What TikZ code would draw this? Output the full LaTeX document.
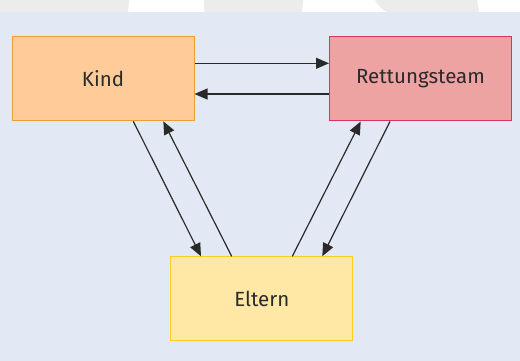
\documentclass[tikz,border=0pt]{standalone}
\usepackage{fontspec}
\setmainfont{Fira Sans}
\usetikzlibrary{arrows.meta}
\definecolor{bgpanel}{HTML}{E3E9F4}
\definecolor{stripgray}{HTML}{ECECEC}
\definecolor{kindfill}{HTML}{FFCC99}
\definecolor{kindline}{HTML}{F39A3A}
\definecolor{teamfill}{HTML}{EDA3A1}
\definecolor{teamline}{HTML}{D8345F}
\definecolor{elternfill}{HTML}{FFE7A6}
\definecolor{elternline}{HTML}{FFCC22}
\definecolor{ink}{HTML}{2A2A2A}
\tikzset{
  box/.style={draw, line width=1pt, minimum width=182pt, minimum height=84pt,
    inner sep=0pt, text=ink, font=\fontsize{20.5}{23}\selectfont},
  flow/.style={draw=ink, line width=1.2pt, -{Triangle[length=13pt,width=11pt]}}
}
\begin{document}
\begin{tikzpicture}[x=1pt,y=-1pt]
  \useasboundingbox (0,0) rectangle (520,361);
  % top strip with white tabs
  \fill[stripgray] (0,0) rectangle (520,12);
  \fill[white] (129.3,0) -- (204,0) -- (204.3,12) -- (128,12) -- cycle;
  \fill[white] (303.3,0) -- (375,0) .. controls (378,6) and (382,10) .. (386.7,12) -- (302,12) -- cycle;
  \fill[white] (477.3,0) -- (520,0) -- (520,12) -- (479,12) -- cycle;
  % panel
  \fill[bgpanel] (0,12) rectangle (520,361);

  % boxes
  \node[box, fill=kindfill, draw=kindline] (kind) at (103,78.8) {Kind};
  \node[box, fill=teamfill, draw=teamline] (team) at (420.5,79) {Rettungsteam};
  \node[box, fill=elternfill, draw=elternline] (eltern) at (261.8,298.8) {Eltern};

  % horizontal links
  \draw[flow] (kind.east |- 0,63.3) -- (team.west |- 0,63.3);
  \draw[flow] (team.west |- 0,94) -- (kind.east |- 0,94);

  % diagonal links
  \draw[flow] (kind.south -| 133.3,0) -- (eltern.north -| 201,0);
  \draw[flow] (eltern.north -| 231.7,0) -- (kind.south -| 163.3,0);
  \draw[flow] (eltern.north -| 292.3,0) -- (team.south -| 360.7,0);
  \draw[flow] (team.south -| 390,0) -- (eltern.north -| 322.3,0);
\end{tikzpicture}
\end{document}
